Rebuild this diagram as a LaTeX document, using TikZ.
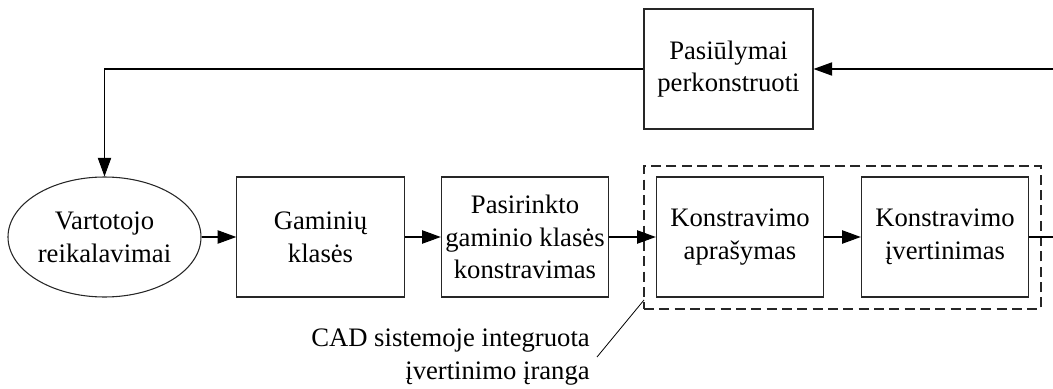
\documentclass[tikz,border=0pt]{standalone}
\usepackage{fontspec}
\setmainfont{Liberation Serif}
\usetikzlibrary{arrows.meta,shapes.geometric}
\begin{document}
\begin{tikzpicture}[x=0.75pt,y=-0.75pt,
  every node/.style={font=\fontsize{20}{24.5}\selectfont, inner sep=0pt, align=center},
  box/.style={draw=black!85, line width=0.8pt, minimum width=125.5pt, minimum height=90pt},
  oval/.style={ellipse, draw=black!85, line width=0.8pt, minimum width=144.75pt, minimum height=90pt},
  dashbox/.style={draw=black!85, line width=0.8pt, dash pattern=on 7.5pt off 4pt,
                  minimum width=297.75pt, minimum height=107.25pt},
  flow/.style={line width=0.8pt, -{Triangle[length=14pt,width=10pt]}},
  plain/.style={line width=0.8pt}]
  \useasboundingbox (0,0) rectangle (1053,389);

  % main chain of stages
  \node[oval] (need) at (104.5,237) {Vartotojo\\reikalavimai};
  \node[box] (cls) at (320.5,237) {Gaminių\\klasės};
  \node[box] (sel) at (525,237) {Pasirinkto\\gaminio klasės\\konstravimas};
  \node[box] (desc) at (740,237) {Konstravimo\\aprašymas};
  \node[box] (eval) at (945,237) {Konstravimo\\įvertinimas};

  % integrated evaluation tools in the CAD system
  \node[dashbox] (cad) at (842.5,237.5) {};

  % redesign proposals
  \node[box, minimum width=126.75pt] (redo) at (728.5,69) {Pasiūlymai\\perkonstruoti};

  \coordinate (outR) at (1053,237);
  \coordinate (inR) at (1053,69);
  \coordinate (turn) at (104.5,69);
  \coordinate (leadA) at (597,357);
  \coordinate (leadB) at (644,300);

  \draw[flow] (need) -- (cls);
  \draw[flow] (cls) -- (sel);
  \draw[flow] (sel) -- (desc);
  \draw[flow] (desc) -- (eval);
  \draw[plain] (eval) -- (outR);
  \draw[flow] (inR) -- (redo);
  \draw[flow] (redo.west) -- (turn) -- (need.north);

  % caption of the dashed group
  \node[anchor=east, align=right] (cadlbl) at (590,357) {CAD sistemoje integruota\\įvertinimo įranga};
  \draw[line width=0.6pt] (leadA) -- (leadB);
\end{tikzpicture}
\end{document}
